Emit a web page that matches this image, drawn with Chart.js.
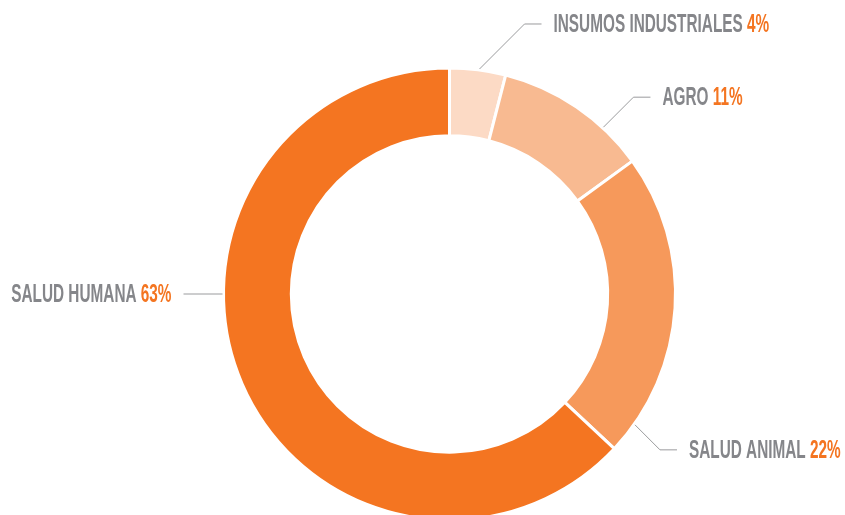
<!DOCTYPE html>
<html>
<head>
<meta charset="utf-8">
<script src="https://cdn.jsdelivr.net/npm/chart.js@4.4.1/dist/chart.umd.min.js"></script>
<style>
  html, body { margin: 0; padding: 0; background: #fff; overflow: hidden; }
  #wrap { width: 845px; height: 515px; overflow: hidden; }
</style>
</head>
<body>
<div id="wrap">
  <canvas id="chart" width="845" height="600"></canvas>
</div>
<script>
const categories = ['INSUMOS INDUSTRIALES', 'AGRO', 'SALUD ANIMAL', 'SALUD HUMANA'];
const values = [4, 11, 22, 63];
const colors = ['#fcdac5', '#f8ba91', '#f6995b', '#f47521'];

// where each leader line leaves the ring (degrees clockwise from top) and how it runs
const leaders = [
  { angle: 7.6, diag: 45, run: 17, side: 'right' },
  { angle: 42.7, diag: 30, run: 17, side: 'right' },
  { angle: 125.2, diag: 25, run: 17, side: 'right' },
  { angle: 270, diag: 0, run: 39, side: 'left' }
];

const condense = 0.59;

const labelPlugin = {
  id: 'leaderLabels',
  afterDatasetsDraw(chart) {
    const ctx = chart.ctx;
    const arcs = chart.getDatasetMeta(0).data;
    ctx.save();
    arcs.forEach((arc, i) => {
      const { x, y, outerRadius } = arc.getProps(['x', 'y', 'outerRadius'], true);
      const l = leaders[i];
      const a = l.angle * Math.PI / 180;
      const ax = x + Math.sin(a) * (outerRadius + 1);
      const ay = y - Math.cos(a) * (outerRadius + 1);
      const dir = l.side === 'right' ? 1 : -1;
      const up = Math.cos(a) > 0 ? -1 : 1;
      const ex = ax + dir * l.diag;
      const ey = ay + up * l.diag;
      const endX = ex + dir * l.run;

      ctx.strokeStyle = '#9a9b9d';
      ctx.lineWidth = 1;
      ctx.beginPath();
      ctx.moveTo(ax, ay);
      ctx.lineTo(ex, ey);
      ctx.lineTo(endX, ey);
      ctx.stroke();

      const name = categories[i] + ' ';
      const pct = values[i] + '%';
      ctx.font = 'bold 26px "Liberation Sans", Arial, sans-serif';
      ctx.textBaseline = 'middle';
      const wName = ctx.measureText(name).width * condense;
      const wPct = ctx.measureText(pct).width * condense;
      const gap = 12;
      let tx = dir > 0 ? endX + gap : endX - gap - wName - wPct;

      ctx.save();
      ctx.translate(tx, ey + 1);
      ctx.scale(condense, 1);
      ctx.textAlign = 'left';
      ctx.fillStyle = '#85868a';
      ctx.fillText(name, 0, 0);
      ctx.fillStyle = '#f47521';
      ctx.fillText(pct, wName / condense, 0);
      ctx.restore();
    });
    ctx.restore();
  }
};

new Chart(document.getElementById('chart'), {
  type: 'doughnut',
  data: {
    labels: categories,
    datasets: [{
      data: values,
      backgroundColor: colors,
      borderColor: '#ffffff',
      borderWidth: 3,
      hoverOffset: 0
    }]
  },
  options: {
    responsive: false,
    animation: false,
    cutout: '70%',
    layout: { padding: { top: 66, bottom: 78, left: 222, right: 168 } },
    plugins: {
      legend: { display: false },
      tooltip: { enabled: false }
    }
  },
  plugins: [labelPlugin]
});
</script>
</body>
</html>
